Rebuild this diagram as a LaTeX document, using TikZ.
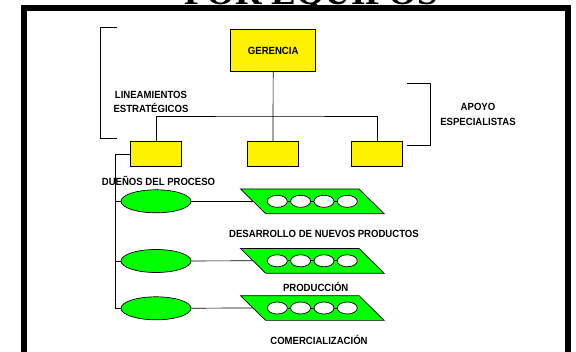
\documentclass[tikz,border=0pt]{standalone}
\usepackage{fontspec}
\setmainfont{Liberation Sans}
\newfontfamily\lblfont{Liberation Sans}[FakeStretch=0.92]
\newfontfamily\titlefont{Liberation Serif}
\usetikzlibrary{shapes.geometric}
\definecolor{verde}{RGB}{0,255,0}
\begin{document}
\begin{tikzpicture}[x=1pt, y=-1pt, line width=0.7pt,
	lbl/.style = {font=\lblfont\fontsize{10.4}{13.5}\selectfont\bfseries, align=center, inner sep=0},
	jefe/.style = {draw, fill=yellow, minimum width=85pt, minimum height=42.4pt, lbl},
	area/.style = {draw, fill=yellow, minimum width=51pt, minimum height=25pt, inner sep=0},
	duen/.style = {draw, ellipse, fill=verde, minimum width=70pt, minimum height=23pt, inner sep=0},
	proc/.style = {minimum width=117.8pt, minimum height=24pt, inner sep=0},
	eq/.style = {draw, ellipse, fill=white, minimum width=20pt, minimum height=12pt, inner sep=0}]
	\useasboundingbox (0,0) rectangle (576,351);
	\draw[line width=6pt] (24,8) rectangle (568,380);
	\node[font=\titlefont\fontsize{37}{37}\selectfont\bfseries, anchor=base] (tit) at (311,4.5) {POR EQUIPOS};
	\node[jefe] (ger) at (273.2,50.5) {GERENCIA};
	\node[area] (b1) at (156,154.2) {};
	\node[area] (b2) at (273,154.2) {};
	\node[area] (b3) at (377,154.2) {};
	\coordinate (bus) at (273,116);
	\draw (ger) -- (b2);
	\draw (b1.north) |- (bus) -| (b3.north);
	% corchetes
	\draw (116.7,27) -- (100.7,27) -- (100.7,138) -- (116.7,138);
	\draw (407,83.3) -- (430.7,83.3) -- (430.7,145.3) -- (407,145.3);
	\node[lbl] (lin) at (151,102) {LINEAMIENTOS\\ESTRATÉGICOS};
	\node[lbl, font=\lblfont\fontsize{10.4}{14.5}\selectfont\bfseries] (apo) at (478,114.5) {APOYO\\ESPECIALISTAS};
	\node[lbl] (due) at (158.5,181) {DUEÑOS DEL PROCESO};
	% duenos y procesos
	\node[duen] (o1) at (156,201.3) {};
	\node[duen] (o2) at (156,261) {};
	\node[duen] (o3) at (156,308.3) {};
	\node[proc] (p1) at (312.3,201.3) {};
	\node[proc] (p2) at (312.3,260.8) {};
	\node[proc] (p3) at (312.3,308) {};
	\node[lbl] (t1) at (324,234) {DESARROLLO DE NUEVOS PRODUCTOS};
	\node[lbl] (t2) at (315.7,286.7) {PRODUCCIÓN};
	\node[lbl] (t3) at (319,340) {COMERCIALIZACIÓN};
	\coordinate (spine) at (115.7,154.2);
	\draw (b1.west) -- (spine) |- (o3.west);
	\draw (o1.west) -- (o1.west -| spine);
	\draw (o2.west) -- (o2.west -| spine);
	\foreach \k in {1,2,3} {
		\draw[fill=verde] ([xshift=-12.6]p\k.north west) -- ([xshift=-12.6]p\k.north east)
			-- ([xshift=12.6]p\k.south east) -- ([xshift=12.6]p\k.south west) -- cycle;
		\draw (o\k) -- (p\k.west);
		\foreach \i/\dx in {1/-35,2/-11.7,3/11.7,4/35}
			\node[eq, xshift=\dx] (p\k c\i) at (p\k) {};
		\draw (p\k c1) -- (p\k c2);
		\draw (p\k c2) -- (p\k c3);
		\draw (p\k c3) -- (p\k c4);
	}
\end{tikzpicture}
\end{document}
